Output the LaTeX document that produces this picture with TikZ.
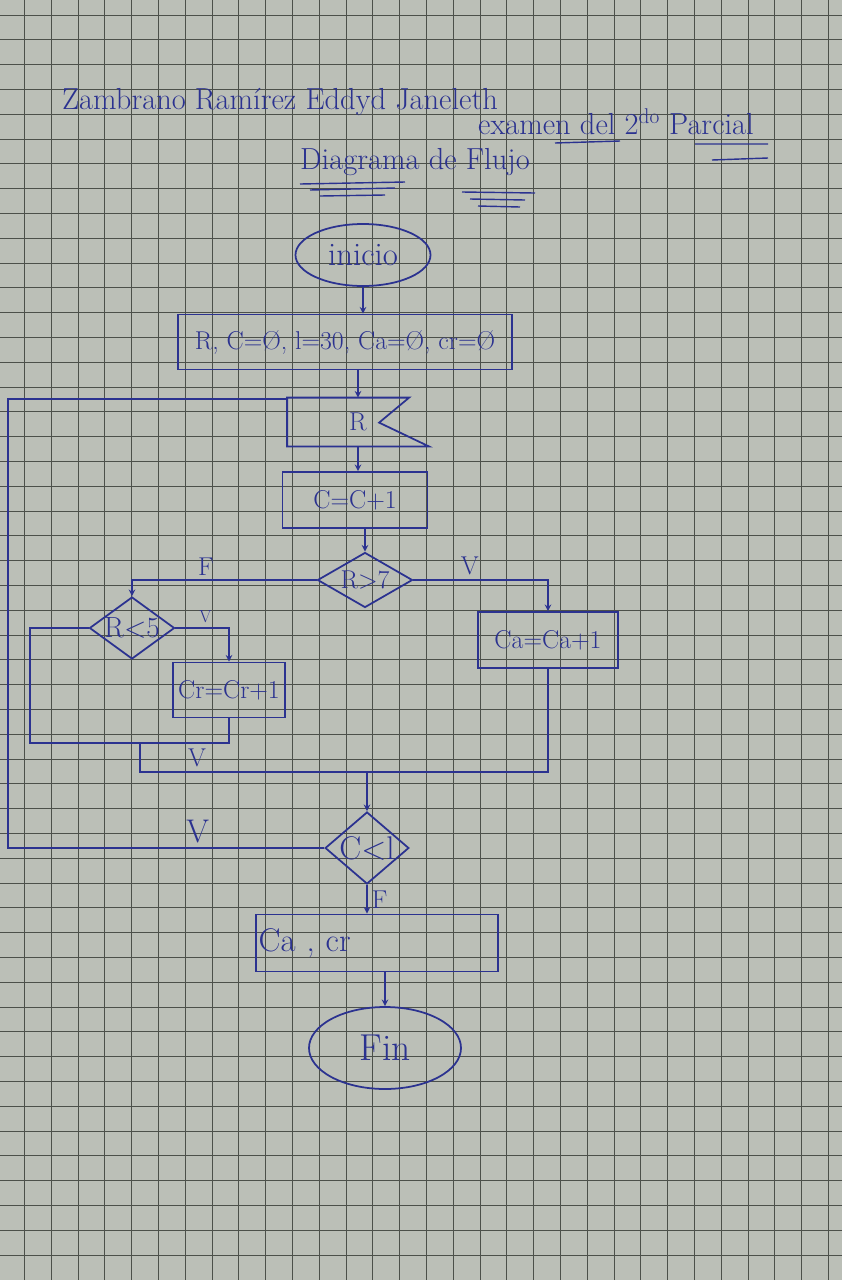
\documentclass[tikz,border=0pt]{standalone}
\usepackage{fontspec}
\usetikzlibrary{shapes.geometric}

\definecolor{paper}{HTML}{BBBFB7}
\definecolor{cuadro}{HTML}{4C504A}
\definecolor{tinta}{HTML}{2B3290}

\begin{document}
\begin{tikzpicture}[x=0.03cm,y=-0.03cm,->,>=stealth,line width=1.5pt,
  every node/.style={text=tinta,font=\fontsize{22}{26}\selectfont},
  big/.style={font=\fontsize{28}{32}\selectfont},
  titulo/.style={font=\fontsize{26}{30}\selectfont},
  term/.style={draw=tinta,ellipse,inner sep=0pt},
  proc/.style={draw=tinta,rectangle,inner sep=2pt},
  cond/.style={draw=tinta,diamond,inner sep=0pt},
  gridline/.style={-,draw=cuadro,line width=0.5pt}]
  % hoja cuadriculada
  \fill[paper] (0,0) rectangle (842,1280);
  \useasboundingbox (0,0) rectangle (842,1280);
  \foreach \k in {-6,...,24} \draw[gridline] (185+26.8*\k,0) -- (185+26.8*\k,1280);
  \foreach \k in {-9,...,41} \draw[gridline] (0,238+24.8*\k) -- (842,238+24.8*\k);

  \begin{scope}[draw=tinta]
  % encabezado
  \node[titulo] (autor) at (280,102) {Zambrano Ramírez Eddyd Janeleth};
  \node[titulo] (examen) at (616,122) {examen del 2\textsuperscript{do} Parcial};
  \node[titulo] (diagrama) at (415,162) {Diagrama de Flujo};
  \draw[-,line width=1.2pt] (555,143) -- (620,141)
    (695,144) -- (768,144) (712,160) -- (768,158);
  \draw[-,line width=1.2pt] (300,184) -- (405,182) (310,190) -- (395,188) (320,196) -- (385,195)
    (462,192) -- (535,193) (470,199) -- (525,200) (478,206) -- (520,207);

  % bloques
  \node[term,big,minimum width=4.05cm,minimum height=1.86cm] (inicio) at (363,255) {inicio};
  \node[proc,minimum width=10cm,minimum height=1.65cm] (datos) at (345,342) {R, C=Ø, l=30, Ca=Ø, cr=Ø};
  \node[minimum width=4.2cm,minimum height=1.41cm] (leer) at (358,422) {R};
  \draw[-] (leer.north west) -- ++(122,0) -- ++(-30,25) -- (leer.south east) -- (leer.south west) -- cycle;
  \node[proc,minimum width=4.35cm,minimum height=1.68cm] (cont) at (355,500) {C=C+1};
  \node[cond,minimum width=2.85cm,minimum height=1.65cm,shape aspect=1.6] (rmay) at (365,580) {R>7};
  \node[proc,minimum width=4.2cm,minimum height=1.68cm] (ca) at (548,640) {Ca=Ca+1};
  \node[cond,font=\fontsize{25}{28}\selectfont,minimum width=2.55cm,minimum height=1.86cm,shape aspect=1.4] (rmen) at (132,628) {R<5};
  \node[proc,minimum width=3.36cm,minimum height=1.65cm] (cr) at (229,690) {Cr=Cr+1};
  \node[cond,big,minimum width=2.46cm,minimum height=2.16cm,shape aspect=1.2] (clm) at (367,848) {C<l};
  \node[proc,big,minimum height=1.71cm,text width=7.1cm,align=left] (sal) at (377,943) {Ca ,\ cr};
  \node[term,font=\fontsize{32}{36}\selectfont,minimum width=4.56cm,minimum height=2.46cm] (fin) at (385,1048) {Fin};

  \coordinate (izq) at (30,743);
  \coordinate (u1) at (140,743);
  \coordinate (u2) at (140,772);
  \coordinate (b2) at (8,399);

  % conectores
  \draw (inicio.south) -- (inicio.south |- datos.north);
  \draw (leer.north |- datos.south) -- (leer.north);
  \draw (leer.south) -- (leer.south |- cont.north);
  \draw (rmay.north |- cont.south) -- (rmay.north);
  \draw (rmay.west) -| node[pos=0.3,above] {F} (rmen.north);
  \draw (rmay.east) -| node[pos=0.21,above] {V} (ca.north);
  \draw (rmen.east) -| node[pos=0.28,above,font=\fontsize{15}{17}\selectfont] {V} (cr.north);
  \draw[-] (rmen.west) -| (izq) -- (cr.south |- izq) -- (cr.south);
  \draw[-] (u1) -- (u2) -- node[pos=0.14,above] {V} (u2 -| ca.south) -- (ca.south);
  \draw (clm.north |- u2) -- (clm.north);
  \draw[-] (clm.west) -- node[pos=0.4,above,big] {V} (clm.west -| b2) -- (b2) -- (b2 -| leer.west);
  \draw (clm.south) -- node[right] {F} (clm.south |- sal.north);
  \draw (fin.north |- sal.south) -- (fin.north);
  \end{scope}
\end{tikzpicture}
\end{document}
